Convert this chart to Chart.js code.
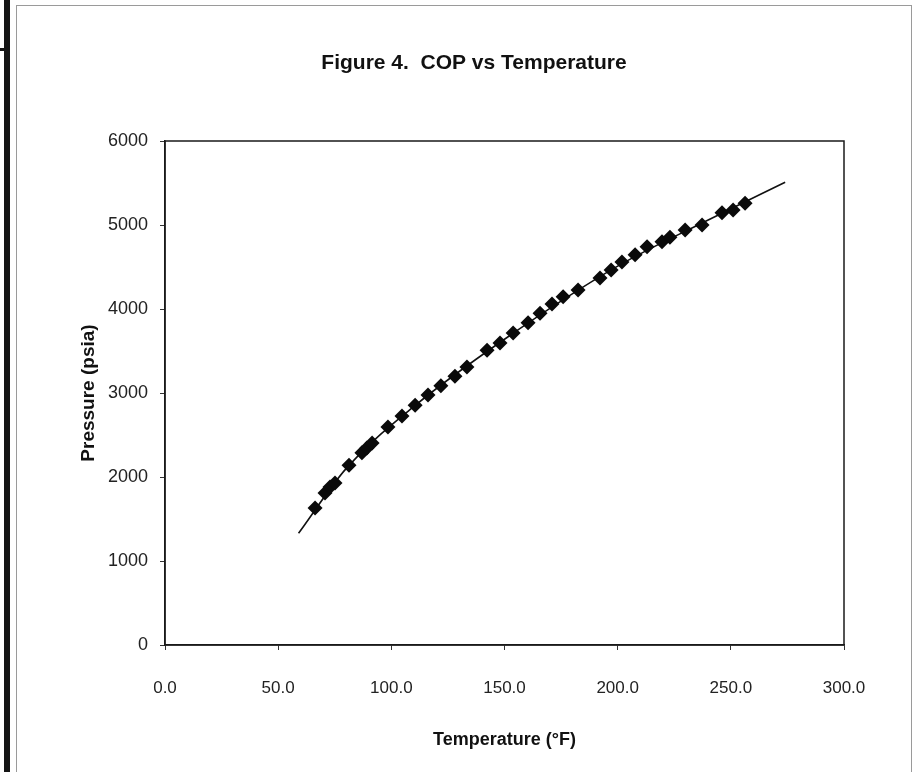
<!DOCTYPE html>
<html>
<head>
<meta charset="utf-8">
<title>Figure 4. COP vs Temperature</title>
<script src="https://cdn.jsdelivr.net/npm/chart.js@4.4.1/dist/chart.umd.min.js"></script>
<style>
  body { margin: 0; background: #fff; }
  #wrap { position: relative; width: 914px; height: 772px; overflow: hidden; }
  #chart { position: absolute; left: 0; top: 0; }
  /* bordes del escaneo */
  .marco { position: absolute; left: 16px; top: 5px; width: 894px; height: 780px; border: 1px solid #9a9a9a; }
  .barra { position: absolute; left: 4px; top: 0; width: 6px; height: 772px; background: #151515; }
  .esquina { position: absolute; left: 0; top: 48px; width: 10px; height: 3px; background: #151515; }
</style>
</head>
<body>
<div id="wrap">
  <div class="marco"></div>
  <div class="barra"></div>
  <div class="esquina"></div>
  <canvas id="chart" width="914" height="772"></canvas>
</div>
<script>
// Datos medidos (temperatura en °F, presión en psia)
var temperaturas = [66.3, 70.7, 72.9, 75.1, 81.3, 87.0, 89.2, 91.5, 98.5, 104.7, 110.5,
    116.2, 121.9, 128.1, 133.4, 142.3, 148.0, 153.8, 160.4, 165.7, 171.0, 175.9, 182.5,
    192.2, 197.1, 201.9, 207.7, 213.0, 219.6, 223.1, 229.8, 237.3, 246.1, 251.0, 256.3];
var presiones = [1630, 1810, 1880, 1930, 2140, 2290, 2345, 2405, 2595, 2725, 2855,
    2975, 3085, 3200, 3310, 3510, 3595, 3715, 3835, 3950, 4060, 4145, 4225,
    4370, 4465, 4560, 4645, 4740, 4800, 4855, 4940, 5000, 5145, 5180, 5260];

// Línea de tendencia
var tempTendencia = [59, 80, 110, 150, 200, 240, 274];
var presTendencia = [1330, 2100, 2840, 3640, 4510, 5060, 5510];

// Marcas de los ejes
var ticksX = [0, 50, 100, 150, 200, 250, 300];
var ticksY = [0, 1000, 2000, 3000, 4000, 5000, 6000];

var fuente = "'Liberation Sans', Arial, sans-serif";

function aPuntos(xs, ys) {
    return xs.map(function (x, i) { return { x: x, y: ys[i] }; });
}

// Dibuja el marco del área de trazado y el título
var marcoPlugin = {
    id: 'marcoArea',
    afterDraw: function (chart) {
        var ctx = chart.ctx;
        var a = chart.chartArea;
        ctx.save();
        ctx.strokeStyle = '#1a1a1a';
        ctx.lineWidth = 1.5;
        ctx.strokeRect(a.left, a.top, a.right - a.left, a.bottom - a.top);
        ctx.fillStyle = '#111';
        ctx.font = "bold 21px " + fuente;
        ctx.textAlign = 'center';
        ctx.textBaseline = 'middle';
        ctx.fillText('Figure 4.  COP vs Temperature', 474, 63);
        ctx.restore();
    }
};

var ctx = document.getElementById('chart').getContext('2d');
var grafico = new Chart(ctx, {
    type: 'scatter',
    data: {
        datasets: [{
            label: 'Datos',
            data: aPuntos(temperaturas, presiones),
            pointStyle: 'rectRot',
            pointRadius: 7.5,
            backgroundColor: '#0a0a0a',
            borderColor: '#0a0a0a',
            borderWidth: 0,
            showLine: false,
            order: 1
        }, {
            label: 'Tendencia',
            data: aPuntos(tempTendencia, presTendencia),
            showLine: true,
            pointRadius: 0,
            borderColor: '#111',
            borderWidth: 1.6,
            tension: 0.4,
            cubicInterpolationMode: 'monotone',
            order: 2
        }]
    },
    options: {
        responsive: false,
        animation: false,
        devicePixelRatio: 1,
        layout: { padding: { left: 60, right: 70, top: 141, bottom: 0 } },
        plugins: {
            legend: { display: false },
            tooltip: { enabled: false },
            title: { display: false }
        },
        scales: {
            x: {
                type: 'linear',
                min: 0,
                max: 300,
                afterBuildTicks: function (axis) {
                    axis.ticks = ticksX.map(function (v) { return { value: v }; });
                },
                afterFit: function (axis) { axis.height = 127; },
                grid: { drawOnChartArea: false, tickLength: 5, color: '#333' },
                border: { display: true, color: '#1a1a1a', width: 1.5 },
                ticks: {
                    color: '#222',
                    padding: 28,
                    font: { family: fuente, size: 17 },
                    callback: function (v) { return Number(v).toFixed(1); }
                },
                title: {
                    display: true,
                    text: 'Temperature (°F)',
                    color: '#111',
                    font: { family: fuente, size: 18, weight: 'bold' },
                    padding: { top: 4, bottom: 21 }
                }
            },
            y: {
                type: 'linear',
                min: 0,
                max: 6000,
                afterBuildTicks: function (axis) {
                    axis.ticks = ticksY.map(function (v) { return { value: v }; });
                },
                afterFit: function (axis) { axis.width = 105; },
                grid: { drawOnChartArea: false, tickLength: 5, color: '#333' },
                border: { display: true, color: '#1a1a1a', width: 1.5 },
                ticks: {
                    color: '#222',
                    padding: 12,
                    font: { family: fuente, size: 18 },
                    callback: function (v) { return String(v); }
                },
                title: {
                    display: true,
                    text: 'Pressure (psia)',
                    color: '#111',
                    font: { family: fuente, size: 19, weight: 'bold' },
                    padding: { top: 17, bottom: 4 }
                }
            }
        }
    },
    plugins: [marcoPlugin]
});
</script>
</body>
</html>
